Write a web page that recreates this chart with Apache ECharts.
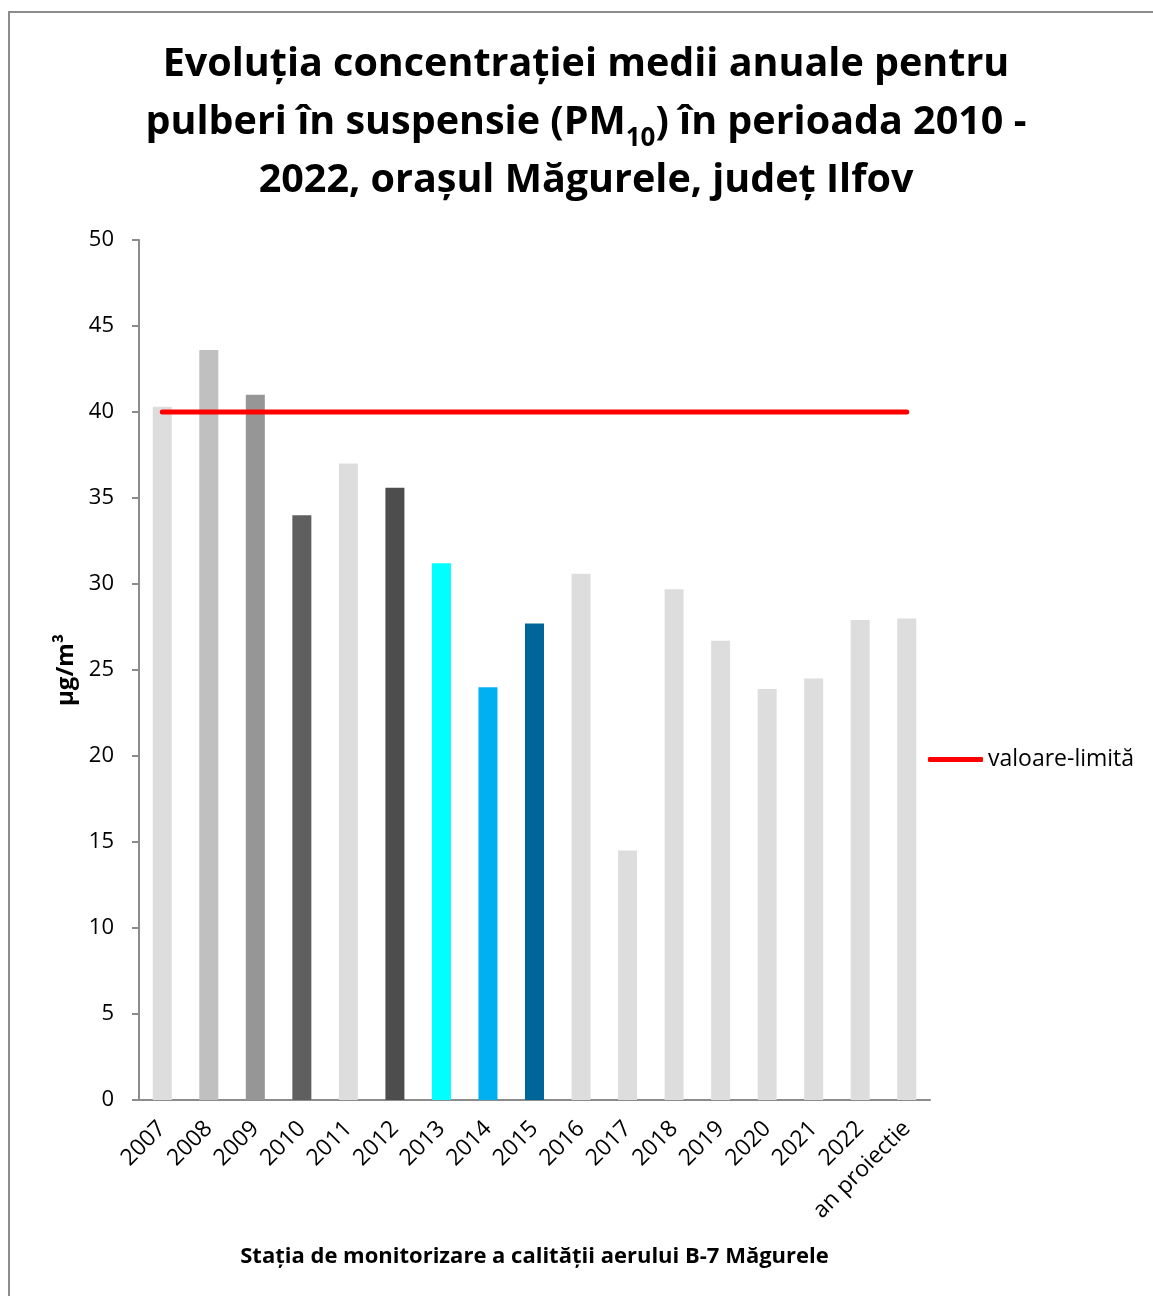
<!DOCTYPE html>
<html lang="ro">
<head>
<meta charset="UTF-8">
<title>PM10 Magurele</title>
<style>
  html, body { margin: 0; padding: 0; background: #fff; }
  .frame { position: absolute; left: 8px; top: 11px; width: 1160px; height: 1300px;
           border-left: 2px solid #8c8c8c; border-top: 2px solid #8c8c8c; box-sizing: border-box; }
  #chart { position: absolute; left: 0; top: 0; width: 1153px; height: 1296px; }
</style>
</head>
<body>
<div class="frame"></div>
<div id="chart"></div>
<script src="https://cdn.jsdelivr.net/npm/echarts@6/dist/echarts.min.js"></script>
<script>
// date
const categories = ['2007', '2008', '2009', '2010', '2011', '2012', '2013', '2014', '2015',
  '2016', '2017', '2018', '2019', '2020', '2021', '2022', 'an proiectie'];
const pm10 = [40.3, 43.6, 41.0, 34.0, 37.0, 35.6, 31.2, 24.0, 27.7,
  30.6, 14.5, 29.7, 26.7, 23.9, 24.5, 27.9, 28.0];
const limitValue = [40, 40, 40, 40, 40, 40, 40, 40, 40, 40, 40, 40, 40, 40, 40, 40, 40];
const barColors = ['#dddddd', '#c0c0c0', '#969696', '#5f5f5f', '#dddddd', '#4d4d4d', '#00ffff', '#00b0f0', '#006699',
  '#dddddd', '#dddddd', '#dddddd', '#dddddd', '#dddddd', '#dddddd', '#dddddd', '#dddddd'];
const yTicks = { min: 0, max: 50, interval: 5 };

const font = '"Open Sans", "Noto Sans", sans-serif';
const chart = echarts.init(document.getElementById('chart'));

chart.setOption({
  animation: false,
  title: {
    text: '{b|Evoluția concentrației medii anuale pentru}\n' +
          '{b|pulberi în suspensie (PM}{s|10}{b|) în perioada 2010 -}\n' +
          '{b|2022, orașul Măgurele, județ Ilfov}',
    left: 586,
    textAlign: 'center',
    top: 36,
    padding: 0,
    textStyle: {
      rich: {
        b: { fontFamily: font, fontWeight: 'bold', fontSize: 39.5, lineHeight: 58, color: '#000' },
        s: { fontFamily: font, fontWeight: 'bold', fontSize: 26, lineHeight: 58, color: '#000', verticalAlign: 'bottom', padding: [18, 0, 0, 0] }
      }
    }
  },
  legend: {
    data: [{ name: 'valoare-limită', icon: 'roundRect' }],
    orient: 'vertical',
    left: 928,
    top: 748,
    padding: 0,
    itemWidth: 55,
    itemHeight: 5,
    itemGap: 0,
    textStyle: { fontFamily: font, fontSize: 23, color: '#000', padding: [0, 0, 0, 0] }
  },
  grid: { left: 139, right: 223, top: 240, bottom: 196, containLabel: false },
  xAxis: {
    type: 'category',
    data: categories,
    name: 'Stația de monitorizare a calității aerului B-7 Măgurele',
    nameLocation: 'middle',
    nameGap: 146,
    nameTextStyle: { fontFamily: font, fontWeight: 'bold', fontSize: 22, color: '#000' },
    axisLine: { lineStyle: { color: '#8c8c8c', width: 2 } },
    axisTick: { show: false },
    axisLabel: { rotate: 45, interval: 0, margin: 25, fontFamily: font, fontSize: 23, color: '#000' }
  },
  yAxis: {
    type: 'value',
    min: yTicks.min,
    max: yTicks.max,
    interval: yTicks.interval,
    name: 'µg/m³',
    nameLocation: 'middle',
    nameGap: 60,
    nameTextStyle: { fontFamily: font, fontWeight: 'bold', fontSize: 24, color: '#000' },
    axisLine: { show: true, lineStyle: { color: '#8c8c8c', width: 2 } },
    axisTick: { show: true, length: 7, lineStyle: { color: '#8c8c8c', width: 2 } },
    splitLine: { show: false },
    axisLabel: { margin: 25, fontFamily: font, fontSize: 22, color: '#000' }
  },
  series: [
    {
      name: 'PM10',
      type: 'bar',
      barWidth: 19,
      data: pm10.map((v, i) => ({ value: v, itemStyle: { color: barColors[i] } }))
    },
    {
      name: 'valoare-limită',
      type: 'line',
      data: limitValue,
      symbol: 'none',
      itemStyle: { color: '#ff0000' },
      lineStyle: { color: '#ff0000', width: 5, cap: 'round' },
      z: 5
    }
  ]
});
</script>
</body>
</html>
